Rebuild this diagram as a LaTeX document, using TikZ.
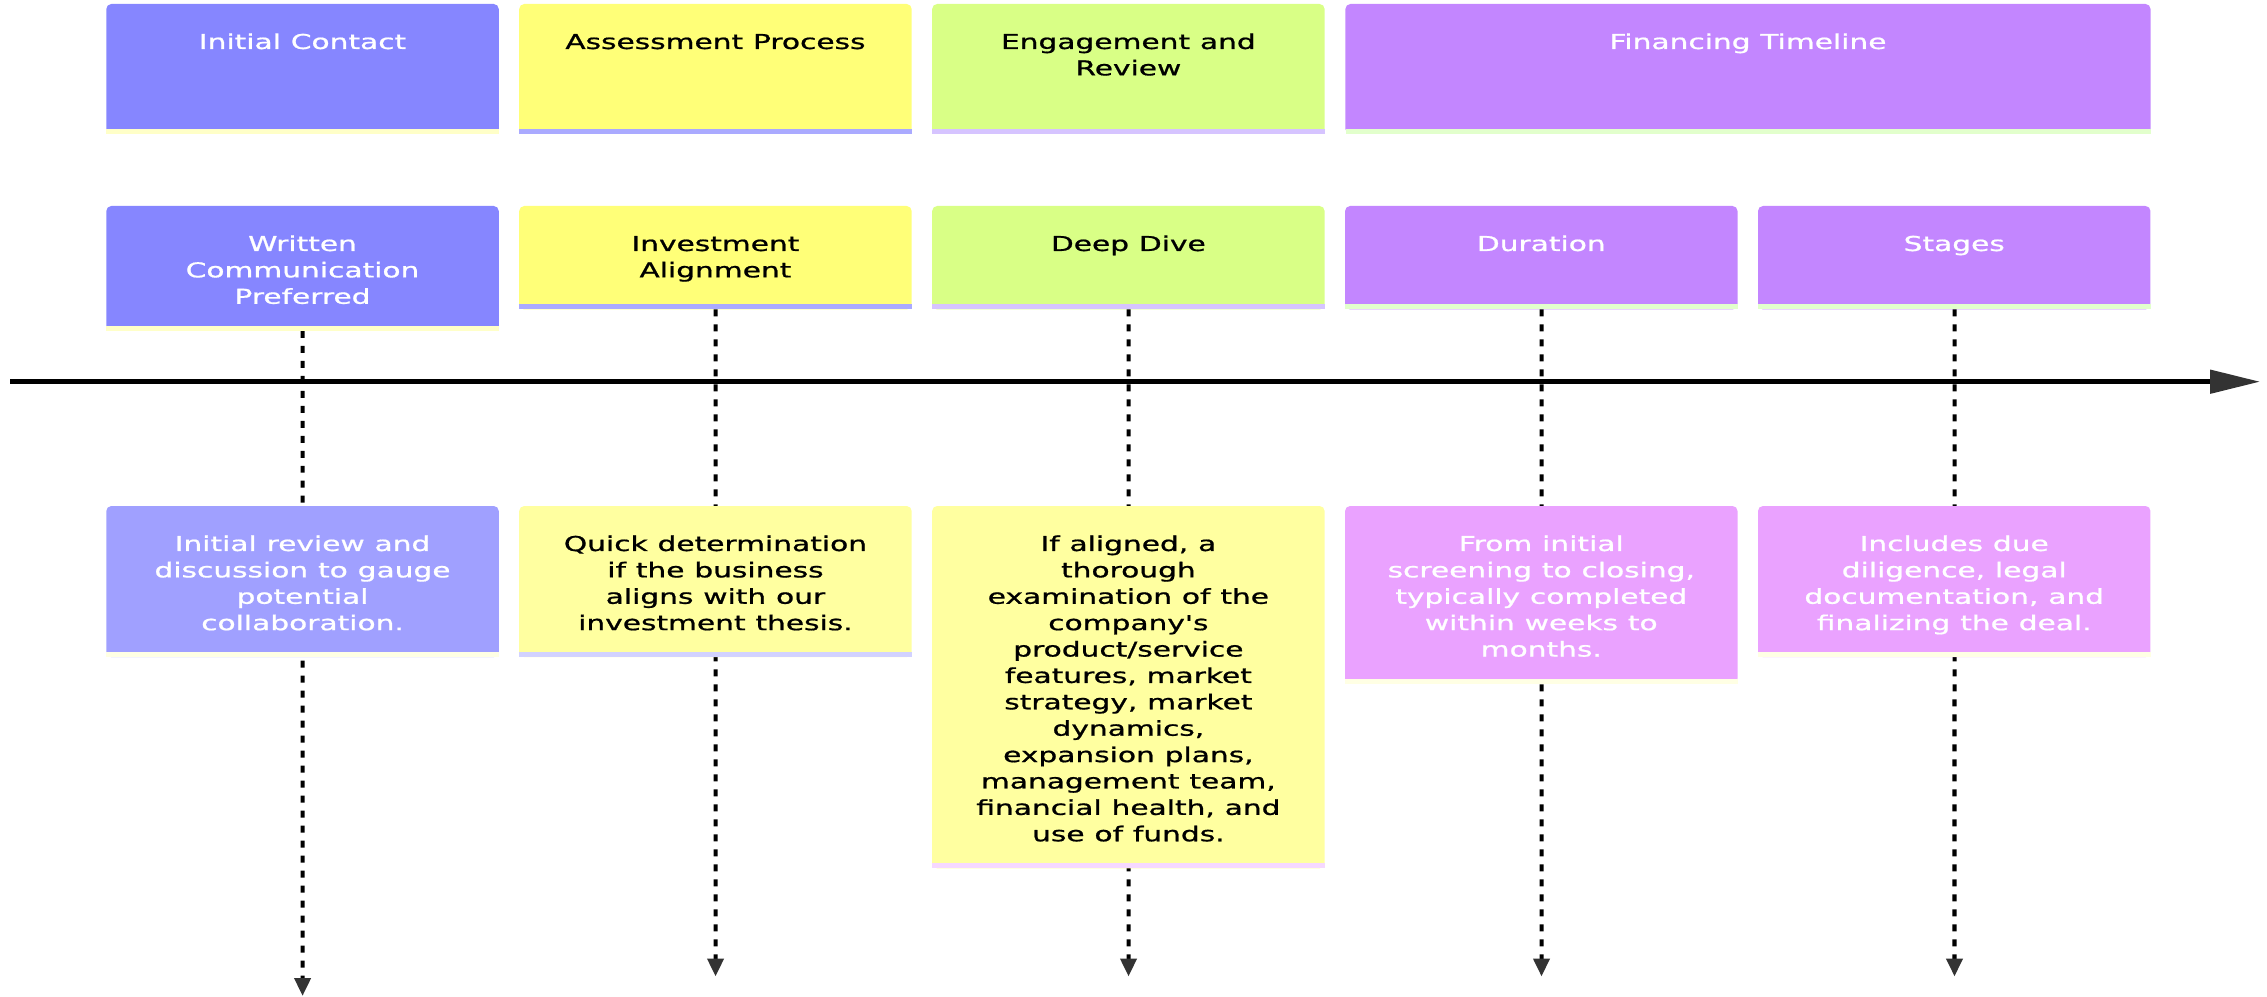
\documentclass[tikz,border=0pt]{standalone}
\usepackage{fontspec}
\setmainfont{DejaVu Sans}
\newfontfamily\boxfont[FakeBold=0.8]{DejaVu Sans}
\usetikzlibrary{arrows.meta}

\definecolor{headBlue}{HTML}{8686FF}
\definecolor{headYellow}{HTML}{FFFF78}
\definecolor{headGreen}{HTML}{D9FF86}
\definecolor{headPurple}{HTML}{C386FF}
\definecolor{evBlue}{HTML}{A0A0FF}
\definecolor{evYellow}{HTML}{FFFFA0}
\definecolor{evPink}{HTML}{EAA2FF}
\definecolor{lineYellow}{HTML}{FFFFC8}
\definecolor{lineBlue}{HTML}{AAAAFF}
\definecolor{lineLilac}{HTML}{D6C4FF}
\definecolor{lineGreen}{HTML}{E2FFCC}
\definecolor{lineCream}{HTML}{FFFFE4}
\definecolor{linePale}{HTML}{D2D2FF}
\definecolor{linePink}{HTML}{F6D8FF}
\definecolor{tipGray}{HTML}{333333}

\begin{document}
\begin{tikzpicture}[x=0.02cm, y=-0.02cm, xscale=1.4458]
        \tikzstyle{box}=[rectangle, rounded corners=0.1cm, anchor=north, inner sep=0pt, outer sep=0pt, text width=5.43cm, align=center, text height=0.9cm, font=\boxfont\fontsize{11.67}{15.02}\selectfont, transform shape]
        \tikzstyle{wide}=[box, text width=11.14cm]
        \tikzstyle{tick}=[draw=black, line width=2.3pt, dash pattern=on 0.14cm off 0.16cm, -{Triangle[length=0.36cm, width=0.32cm, color=tipGray]}]
        \tikzstyle{axis}=[draw=black, line width=2.7pt, -{Triangle[length=1cm, width=0.46cm, color=tipGray]}]
        \useasboundingbox (0,0) rectangle (1568,997);
        \begin{scope}
            % sections
            \node [box, fill=headBlue, text=white, text depth=1.70cm] (contact) at (209.25,4) {Initial Contact};
            \node [box, fill=headYellow, text depth=1.70cm] (assess) at (494.85,4) {Assessment Process};
            \node [box, fill=headGreen, text depth=1.70cm] (engage) at (780.45,4) {Engagement and\\Review};
            \node [wide, fill=headPurple, text=white, text depth=1.70cm] (finance) at (1209,4) {Financing Timeline};
            % periods
            \node [box, fill=headBlue, text=white, text depth=1.596cm] (written) at (209.25,206) {Written\\Communication\\Preferred};
            \node [box, fill=headYellow, text depth=1.17cm] (align) at (494.85,206) {Investment\\Alignment};
            \node [box, fill=headGreen, text depth=1.17cm] (dive) at (780.45,206) {Deep Dive};
            \node [box, fill=headPurple, text=white, text depth=1.17cm] (duration) at (1066.05,206) {Duration};
            \node [box, fill=headPurple, text=white, text depth=1.17cm] (stages) at (1351.65,206) {Stages};
            % dashed drop lines
            \coordinate (e1) at (209.25,996);
            \coordinate (e2) at (494.85,976.5);
            \coordinate (e3) at (780.45,976.5);
            \coordinate (e4) at (1066.05,976.5);
            \coordinate (e5) at (1351.65,976.5);
            \path[tick] (written) -- (e1);
            \path[tick] (align) -- (e2);
            \path[tick] (dive) -- (e3);
            \path[tick] (duration) -- (e4);
            \path[tick] (stages) -- (e5);
            % time axis
            \coordinate (t0) at (7,381.7);
            \coordinate (t1) at (1563,381.7);
            \path[axis] (t0) -- (t1);
            % events
            \node [box, fill=evBlue, text=white, text depth=2.124cm] (review) at (209.25,506) {Initial review and\\discussion to gauge\\potential\\collaboration.};
            \node [box, fill=evYellow, text depth=2.124cm] (quick) at (494.85,506) {Quick determination\\if the business\\aligns with our\\investment thesis.};
            \node [box, fill=evYellow, text depth=6.348cm] (deep) at (780.45,506) {If aligned, a\\thorough\\examination of the\\company\textquotesingle s\\product/service\\features, market\\strategy, market\\dynamics,\\expansion plans,\\management team,\\financial health, and\\use of funds.};
            \node [box, fill=evPink, text=white, text depth=2.652cm] (span) at (1066.05,506) {From initial\\screening to closing,\\typically completed\\within weeks to\\months.};
            \node [box, fill=evPink, text=white, text depth=2.124cm] (steps) at (1351.65,506) {Includes due\\diligence, legal\\documentation, and\\finalizing the deal.};
            % bottom lines
            \fill[lineYellow] (contact.south west) rectangle ([yshift=0.1cm]contact.south east);
            \fill[lineBlue] (assess.south west) rectangle ([yshift=0.1cm]assess.south east);
            \fill[lineLilac] (engage.south west) rectangle ([yshift=0.1cm]engage.south east);
            \fill[lineGreen] (finance.south west) rectangle ([yshift=0.1cm]finance.south east);
            \fill[lineYellow] (written.south west) rectangle ([yshift=0.1cm]written.south east);
            \fill[lineBlue] (align.south west) rectangle ([yshift=0.1cm]align.south east);
            \fill[lineLilac] (dive.south west) rectangle ([yshift=0.1cm]dive.south east);
            \fill[lineGreen] (duration.south west) rectangle ([yshift=0.1cm]duration.south east);
            \fill[lineGreen] (stages.south west) rectangle ([yshift=0.1cm]stages.south east);
            \fill[lineCream] (review.south west) rectangle ([yshift=0.1cm]review.south east);
            \fill[linePale] (quick.south west) rectangle ([yshift=0.1cm]quick.south east);
            \fill[linePink] (deep.south west) rectangle ([yshift=0.1cm]deep.south east);
            \fill[lineCream] (span.south west) rectangle ([yshift=0.1cm]span.south east);
            \fill[lineCream] (steps.south west) rectangle ([yshift=0.1cm]steps.south east);
        \end{scope}
\end{tikzpicture}
\end{document}
